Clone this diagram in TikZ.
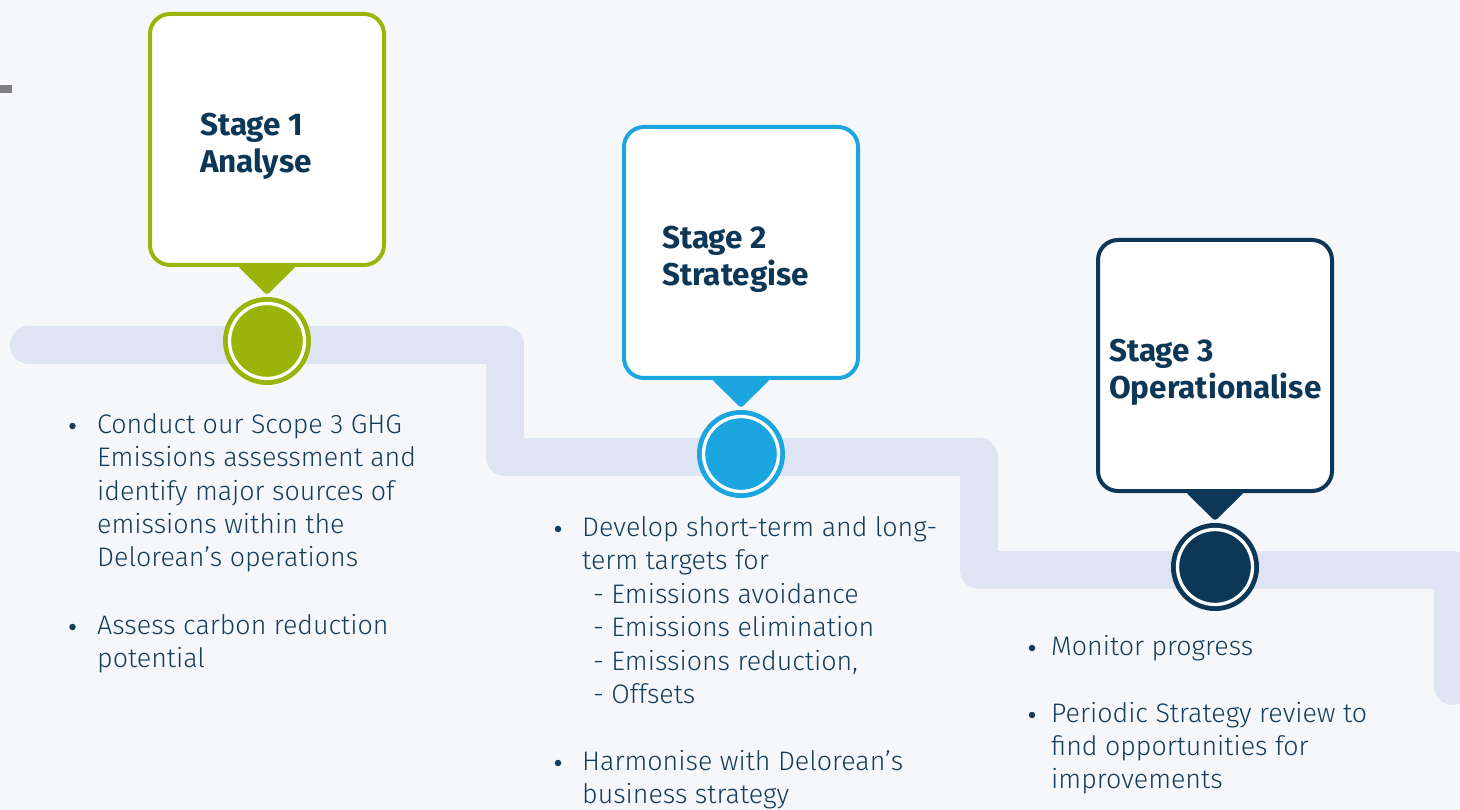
\documentclass[tikz,border=0pt]{standalone}
\usepackage{fontspec}
\setmainfont{Fira Sans}
\newfontfamily\bodyfont{Fira Sans Light}
\definecolor{bg}{HTML}{F5F7FA}
\definecolor{track}{HTML}{DFE4F2}
\definecolor{sgreen}{HTML}{9BB40A}
\definecolor{sblue}{HTML}{1BA6E0}
\definecolor{snavy}{HTML}{0D3757}
\definecolor{txt}{HTML}{163C5C}
\definecolor{greymark}{HTML}{808080}
\tikzset{
  stagebox/.style={draw=#1, fill=white, line width=4pt, rounded corners=20pt,
    minimum width=234pt, minimum height=251pt, inner sep=0pt},
  dotnode/.style={circle, fill=#1, minimum size=88pt, inner sep=0pt},
  innerdot/.style={circle, fill=#1, draw=white, line width=3.3pt, minimum size=75pt, inner sep=0pt},
  title/.style={anchor=base west, inner sep=0pt, text=snavy, font=\bfseries\fontsize{31.5}{37}\selectfont},
  body/.style={anchor=base west, inner sep=0pt, text=txt, font=\bodyfont\fontsize{26.8}{33}\selectfont},
  bullet/.style={circle, fill=txt, minimum size=6.5pt, inner sep=0pt},
  trackline/.style={draw=track, line width=38pt, line join=round, line cap=round}
}
\begin{document}
\begin{tikzpicture}[x=1pt,y=-1pt]
\useasboundingbox[fill=bg] (0,0) rectangle (1460,810);
\fill[greymark] (0,85) rectangle (12,93);
% track
\coordinate (t0) at (29,345);
\coordinate (t1) at (504.5,345);
\coordinate (t2) at (504.5,457);
\coordinate (t3) at (978.5,457);
\coordinate (t4) at (978.5,570);
\coordinate (t5) at (1452.5,570);
\coordinate (t6) at (1452.5,686);
\draw[trackline] (t0) -- (t1) -- (t2) -- (t3) -- (t4) -- (t5) -- (t6);
% stage boxes
\foreach \i/\c/\x/\y in {1/sgreen/267/139.5, 2/sblue/741/252.5, 3/snavy/1215/365.5}{
  \node[stagebox=\c] (b\i) at (\x,\y) {};
  \fill[\c, rounded corners=3pt] ([xshift=-29.5pt,yshift=1pt]b\i.south) -- ([xshift=29.5pt,yshift=1pt]b\i.south) -- ([yshift=-28pt]b\i.south) -- cycle;
  \node[dotnode=\c] (c\i) at (\x,\y+201.5) {};
  \node[innerdot=\c] (ci\i) at (c\i) {};
}
% titles
\node[title] (s1a) at (200,136) {Stage 1};
\node[title] (s1b) at (200,173) {Analyse};
\node[title] (s2a) at (662,249) {Stage 2};
\node[title] (s2b) at (662,286) {Strategise};
\node[title] (s3a) at (1109,362) {Stage 3};
\node[title] (s3b) at (1109,399) {Operationalise};
% list 1
\node[bullet] (p11) at (72.5,426) {};
\node[bullet] (p12) at (72.5,627) {};
\node[body] (l11) at (97,433) {Conduct our Scope 3 GHG};
\node[body] (l12) at (97,466.5) {Emissions assessment and};
\node[body] (l13) at (97,500) {identify major sources of};
\node[body] (l14) at (97,533) {emissions within the};
\node[body] (l15) at (97,566.5) {Delorean’s operations};
\node[body] (l16) at (97,634) {Assess carbon reduction};
\node[body] (l17) at (97,667) {potential};
% list 2
\node[bullet] (p21) at (558,529) {};
\node[bullet] (p22) at (558,763) {};
\node[body] (l21) at (582,536) {Develop short-term and long-};
\node[body] (l22) at (582,569.5) {term targets for};
\node[body] (l23) at (593,603) {- Emissions avoidance};
\node[body] (l24) at (593,636.5) {- Emissions elimination};
\node[body] (l25) at (593,670) {- Emissions reduction,};
\node[body] (l26) at (593,703) {- Offsets};
\node[body] (l27) at (582,770) {Harmonise with Delorean’s};
\node[body] (l28) at (582,803) {business strategy};
% list 3
\node[bullet] (p31) at (1032,648) {};
\node[bullet] (p32) at (1032,715) {};
\node[body] (l31) at (1051,655) {Monitor progress};
\node[body] (l32) at (1051,722) {Periodic Strategy review to};
\node[body] (l33) at (1051,755) {find opportunities for};
\node[body] (l34) at (1051,788) {improvements};
\end{tikzpicture}
\end{document}
